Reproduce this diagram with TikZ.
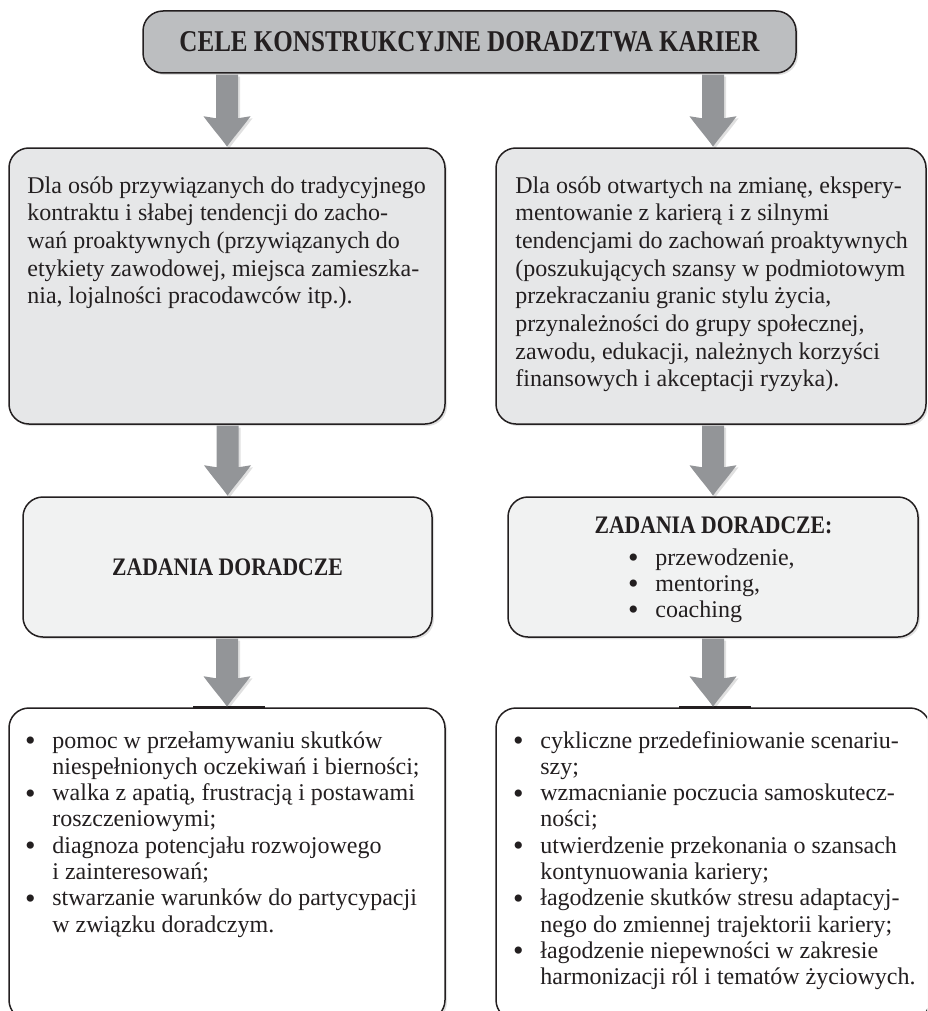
\documentclass[tikz,border=0pt]{standalone}
\usepackage{fontspec}
\setmainfont{Liberation Serif}
\usetikzlibrary{calc,shadows}

\definecolor{inkc}{HTML}{231F20}
\definecolor{titlefill}{HTML}{BCBEC0}
\definecolor{upperfill}{HTML}{E6E7E8}
\definecolor{midfill}{HTML}{F1F2F2}
\definecolor{arrowfill}{HTML}{939598}

% bullet rows: bullet centred on the node's left edge, text 11pt further right
\newcommand\bigbullet{\raisebox{-0.1em}{\scalebox{1.25}{\textbullet}}}
\newcommand\bitem{\makebox[11pt][l]{\makebox[0pt]{\bigbullet}}}
\newcommand\bcont{\hspace*{11pt}}

% heading faces (condensed bold)
\newcommand\titleface[1]{\scalebox{0.83}[1]{\fontsize{15.1}{18}\selectfont\bfseries #1}}
\newcommand\headface[1]{\scalebox{0.86}[1]{\fontsize{12.6}{14}\selectfont\bfseries #1}}

% broad grey arrow with a swept, concave head from node #1 down to node #2
\newcommand\bigarrow[2]{%
  \fill[arrowfill, softshadow] let \p1=(#1), \p2=(#2) in
    (\x2-5.5pt,\y1-0.4pt) -- (\x2-5.5pt,\y2+14.5pt) -- (\x2-11.75pt,\y2+15.5pt)
    .. controls (\x2-7pt,\y2+9pt) and (\x2-2.5pt,\y2+4pt) .. (\x2,\y2+0.3pt)
    .. controls (\x2+2.5pt,\y2+4pt) and (\x2+7pt,\y2+9pt) .. (\x2+11.75pt,\y2+15.5pt)
    -- (\x2+5.5pt,\y2+14.5pt) -- (\x2+5.5pt,\y1-0.4pt) -- cycle;}

\tikzset{
  softshadow/.style={drop shadow={shadow xshift=1pt, shadow yshift=-1pt, opacity=0.12, fill=black}},
  panel/.style={draw=inkc, line width=0.75pt, rounded corners=10pt, inner sep=0pt,
                text=inkc, softshadow},
  titlebox/.style={panel, fill=titlefill},
  upperbox/.style={panel, fill=upperfill},
  midbox/.style={panel, fill=midfill},
  lowerbox/.style={panel, fill=white},
  bodytext/.style={inner sep=0pt, text=inkc, anchor=base west,
                   font=\fontsize{12}{13.85}\selectfont},
  listtext/.style={inner sep=0pt, text=inkc, anchor=base west,
                   font=\fontsize{12}{13.15}\selectfont},
  smalllist/.style={inner sep=0pt, text=inkc, anchor=base west,
                   font=\fontsize{12}{13}\selectfont},
  joinmark/.style={draw=inkc, line width=1.4pt},
}

\begin{document}
\begin{tikzpicture}[x=0.5pt, y=-0.5pt]
  \useasboundingbox (0,0) rectangle (927,1011);
  \clip (0,0) rectangle (927,1011);

  % boxes
  \node[titlebox, minimum width=326.5pt, minimum height=31pt] (title) at (469.5,42)
    {\titleface{CELE KONSTRUKCYJNE DORADZTWA KARIER}};

  \node[upperbox, minimum width=218pt, minimum height=138pt] (b1) at (227,286) {};
  \node[upperbox, minimum width=215pt, minimum height=138pt] (b2) at (711,286) {};

  \node[midbox, minimum width=204.5pt, minimum height=70pt] (b3) at (227.5,567)
    {\headface{ZADANIA DORADCZE}};
  \node[midbox, minimum width=205pt, minimum height=70pt] (b4) at (713,567) {};

  \node[lowerbox, minimum width=218pt, minimum height=156pt] (b5) at (227,864) {};
  \node[lowerbox, minimum width=217pt, minimum height=156pt] (b6) at (713,864) {};

  % darker join where the lower arrows meet the bottom boxes
  \draw[joinmark] ($(b5.north)+(-17pt,0)$) -- ($(b5.north)+(19pt,0)$);
  \draw[joinmark] ($(b6.north)+(-17pt,0)$) -- ($(b6.north)+(19pt,0)$);

  % arrows
  \bigarrow{title.south}{b1.north}
  \bigarrow{title.south}{b2.north -| b4.north}
  \bigarrow{b1.south}{b3.north}
  \bigarrow{b2.south}{b4.north}
  \bigarrow{b3.south}{b5.north}
  \bigarrow{b4.south}{b6.north}

  % texts of the upper boxes
  \node[bodytext] (t1) at (27,193) {\begin{tabular}[t]{@{}l@{}}
    Dla osób przywiązanych do tradycyjnego\\
    kontraktu i słabej tendencji do zacho-\\
    wań proaktywnych (przywiązanych do\\
    etykiety zawodowej, miejsca zamieszka-\\
    nia, lojalności pracodawców itp.).
  \end{tabular}};

  \node[bodytext] (t2) at (515,193) {\begin{tabular}[t]{@{}l@{}}
    Dla osób otwartych na zmianę, ekspery-\\
    mentowanie z karierą i z silnymi\\
    tendencjami do zachowań proaktywnych\\
    (poszukujących szansy w podmiotowym\\
    przekraczaniu granic stylu życia,\\
    przynależności do grupy społecznej,\\
    zawodu, edukacji, należnych korzyści\\
    finansowych i akceptacji ryzyka).
  \end{tabular}};

  % right middle box: heading and short list
  \node[inner sep=0pt, text=inkc, anchor=base] (h4) at (713.5,533)
    {\headface{ZADANIA DORADCZE:}};
  \node[smalllist] (t4) at (633,565) {\begin{tabular}[t]{@{}l@{}}
    \bitem przewodzenie,\\
    \bitem mentoring,\\
    \bitem coaching
  \end{tabular}};

  % bottom lists
  \node[listtext] (t5) at (30,748) {\begin{tabular}[t]{@{}l@{}}
    \bitem pomoc w przełamywaniu skutków\\
    \bcont niespełnionych oczekiwań i bierności;\\
    \bitem walka z apatią, frustracją i postawami\\
    \bcont roszczeniowymi;\\
    \bitem diagnoza potencjału rozwojowego\\
    \bcont i zainteresowań;\\
    \bitem stwarzanie warunków do partycypacji\\
    \bcont w związku doradczym.
  \end{tabular}};

  \node[listtext] (t6) at (518,748) {\begin{tabular}[t]{@{}l@{}}
    \bitem cykliczne przedefiniowanie scenariu-\\
    \bcont szy;\\
    \bitem wzmacnianie poczucia samoskutecz-\\
    \bcont ności;\\
    \bitem utwierdzenie przekonania o szansach\\
    \bcont kontynuowania kariery;\\
    \bitem łagodzenie skutków stresu adaptacyj-\\
    \bcont nego do zmiennej trajektorii kariery;\\
    \bitem łagodzenie niepewności w zakresie\\
    \bcont harmonizacji ról i tematów życiowych.
  \end{tabular}};
\end{tikzpicture}
\end{document}
